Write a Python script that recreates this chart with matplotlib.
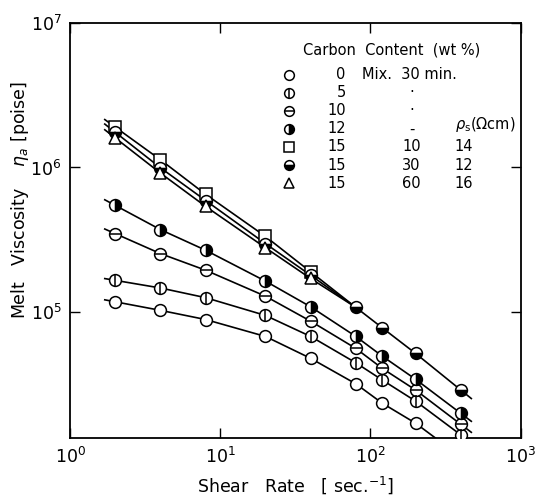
import numpy as np
import matplotlib.pyplot as plt

# shear rate [1/s] and melt viscosity [poise]
shear = [2, 4, 8, 20, 40, 80, 120, 200, 400]
shear_short = [2, 4, 8, 20, 40]
eta_c0 = [1.18e5, 1.03e5, 8.9e4, 6.8e4, 4.8e4, 3.2e4, 2.35e4, 1.71e4, 1.0e4]
eta_c5 = [1.66e5, 1.47e5, 1.26e5, 9.5e4, 6.8e4, 4.47e4, 3.4e4, 2.43e4, 1.42e4]
eta_c10 = [3.49e5, 2.54e5, 1.95e5, 1.29e5, 8.67e4, 5.62e4, 4.09e4, 2.9e4, 1.68e4]
eta_c12 = [5.47e5, 3.72e5, 2.68e5, 1.64e5, 1.09e5, 6.8e4, 4.97e4, 3.44e4, 2.0e4]
eta_c15_m10 = [1.90e6, 1.13e6, 6.52e5, 3.34e5, 1.90e5]
eta_c15_m30 = [1.75e6, 9.95e5, 5.91e5, 2.98e5, 1.80e5, 1.08e5, 7.8e4, 5.19e4, 2.9e4]
eta_c15_m60 = [1.60e6, 9.14e5, 5.38e5, 2.79e5, 1.71e5]

# legend table
carbon = ['0', '5', '10', '12', '15', '15', '15']
mix_time = ['', '·', '·', '-', '10', '30', '60']
rho_s = ['', '', '', '', '14', '12', '16']

plt.rcParams['font.family'] = 'DejaVu Sans'
plt.rcParams['mathtext.fontset'] = 'dejavusans'

fig = plt.figure(figsize=(5.35, 4.95), dpi=100)
ax = fig.add_axes([0.131, 0.115, 0.842, 0.839])
ax.set_xscale('log')
ax.set_yscale('log')
ax.set_xlim(1, 1000)
ax.set_ylim(1.35e4, 1e7)


def tails(x, y, d0=0.07, d1=0.07):
    lx, ly = np.log10(x), np.log10(y)
    s0 = (ly[1] - ly[0]) / (lx[1] - lx[0])
    s1 = (ly[-1] - ly[-2]) / (lx[-1] - lx[-2])
    lx = np.concatenate([[lx[0] - d0], lx, [lx[-1] + d1]])
    ly = np.concatenate([[ly[0] - s0 * d0], ly, [ly[-1] + s1 * d1]])
    return 10 ** lx, 10 ** ly


ms = 8.5
mew = 1.1
open_c = dict(marker='o', ms=ms, mfc='white', mec='black', mew=mew)
styles = [
    (shear, eta_c0, dict(open_c), None),
    (shear, eta_c5, dict(open_c), '|'),
    (shear, eta_c10, dict(open_c), '_'),
    (shear, eta_c12, dict(marker='o', ms=ms, fillstyle='right', mfc='black', mfcalt='white', mec='black', mew=mew), None),
    (shear_short, eta_c15_m10, dict(marker='s', ms=ms, mfc='white', mec='black', mew=mew), None),
    (shear, eta_c15_m30, dict(marker='o', ms=ms, fillstyle='bottom', mfc='black', mfcalt='white', mec='black', mew=mew), None),
    (shear_short, eta_c15_m60, dict(marker='^', ms=ms, mfc='white', mec='black', mew=mew), None),
]

for x, y, st, bar in styles:
    if len(x) == len(shear):
        tx, ty = tails(x, y)
    else:
        # the 10 and 60 min curves join the 30 min curve at the next rate
        n = len(x)
        tx, ty = tails(list(x) + [shear[n]], list(y) + [eta_c15_m30[n]], d1=0.0)
    ax.plot(tx, ty, color='black', lw=1.2, zorder=2)
for x, y, st, bar in styles:
    ax.plot(x, y, ls='none', zorder=3, **st)
    if bar:
        ax.plot(x, y, ls='none', marker=bar, ms=ms, mec='black', mew=mew, zorder=4)

# legend table
xs, xc, xm, xr = 0.486, 0.612, 0.758, 0.854
y0, dy = 0.875, 0.0435
fs = 10.5
ax.text(0.517, 0.935, 'Carbon  Content  (wt %)', transform=ax.transAxes, fontsize=fs, va='center')
for i, (x, y, st, bar) in enumerate(styles):
    yy = y0 - i * dy
    ax.plot([xs], [yy], ls='none', transform=ax.transAxes, clip_on=False, **dict(st, ms=7))
    if bar:
        ax.plot([xs], [yy], ls='none', marker=bar, ms=7, mec='black', mew=mew, transform=ax.transAxes)
    ax.text(xc, yy, carbon[i], transform=ax.transAxes, fontsize=fs, ha='right', va='center')
    if i == 0:
        ax.text(0.647, yy, 'Mix.  30 min.', transform=ax.transAxes, fontsize=fs, va='center')
    else:
        ax.text(xm, yy, mix_time[i], transform=ax.transAxes, fontsize=fs, ha='center', va='center')
    if rho_s[i]:
        ax.text(xr, yy, rho_s[i], transform=ax.transAxes, fontsize=fs, va='center')
ax.text(xr, y0 - 3 * dy + 0.01, r'$\rho_{\rm s}$($\Omega$cm)', transform=ax.transAxes, fontsize=fs, va='center')

ax.minorticks_off()
ax.tick_params(which='major', direction='in', length=7, width=1, top=True, right=True,
               labelsize=12.5, pad=6)
for s in ax.spines.values():
    s.set_linewidth(1.3)

ax.set_xlabel(r'Shear   Rate   [ sec.$^{-1}$]', fontsize=12.5, labelpad=6)
fig.text(0.038, 0.595, r'Melt   Viscosity    $\eta_a$ [poise]', rotation=90, fontsize=12.5,
         ha='center', va='center')

fig.savefig('out.png', dpi=100)
